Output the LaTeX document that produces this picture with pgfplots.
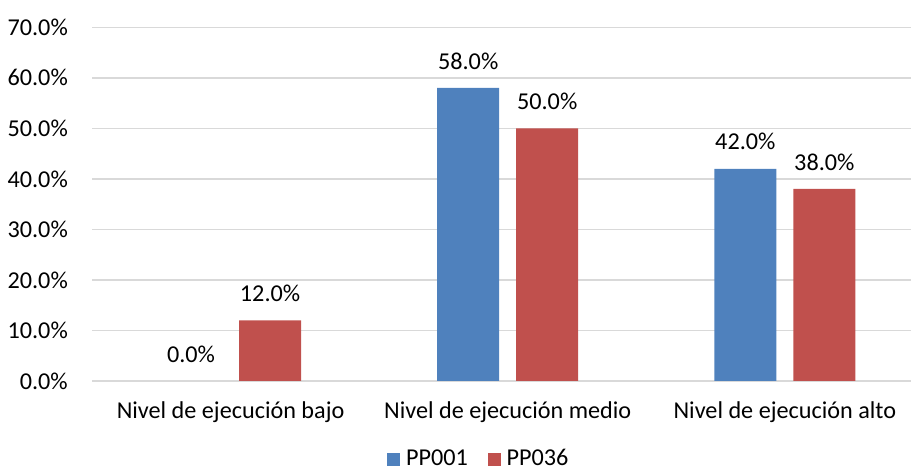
\documentclass[border=0pt]{standalone}
\usepackage{fontspec}
\setmainfont{Carlito}
\usepackage{pgfplots}
\pgfplotsset{compat=1.18}
\definecolor{barblue}{HTML}{4F81BD}
\definecolor{barred}{HTML}{C0504D}
\definecolor{gridgray}{HTML}{D9D9D9}
\begin{document}
\fontsize{24.2bp}{29bp}\selectfont
\begin{tikzpicture}
\begin{axis}[
  at={(92bp,92bp)}, anchor=south west,
  scale only axis, width=831.4bp, height=353.7bp,
  ybar=17bp, bar width=62bp,
  xmin=-0.5, xmax=2.5, ymin=0, ymax=70,
  xtick={0,1,2},
  xticklabels={Nivel de ejecución bajo, Nivel de ejecución medio, Nivel de ejecución alto},
  ytick={0,10,...,70},
  ymajorgrids, xmajorgrids=false,
  grid style={gridgray, line width=1.5bp},
  axis line style={draw=none}, major tick length=0pt, tick style={draw=none},
  /pgf/number format/assume math mode=true,
  yticklabel={\pgfmathprintnumber[fixed,fixed zerofill,precision=1]{\tick}\%},
  yticklabel style={anchor=east, inner sep=0pt, xshift=-24bp, text=black},
  xticklabel style={anchor=base, inner sep=0pt, yshift=-37.3bp, text=black},
  nodes near coords={\pgfmathprintnumber[fixed,fixed zerofill,precision=1]{\pgfplotspointmeta}\%},
  every node near coord/.append style={inner sep=0pt, yshift=18.4bp, text=black},
  legend columns=2,
  legend cell align=left,
  legend style={draw=none, fill=none, inner sep=0pt,
    at={(rel axis cs:0.3548,-0.2215)}, anchor=west,
    /tikz/every odd column/.append style={column sep=6bp},
    /tikz/every even column/.append style={column sep=19.7bp},
    nodes={inner sep=0pt, text=black}},
  legend image code/.code={\path[#1,draw=none] (0bp,-6.5bp) rectangle (13bp,6.5bp);},
]
\addplot[fill=barblue, draw=none] coordinates {(0,0) (1,58) (2,42)};
\addplot[fill=barred, draw=none] coordinates {(0,12) (1,50) (2,38)};
\legend{PP001, PP036}
\end{axis}
\pgfresetboundingbox
\useasboundingbox (0,0) rectangle (911bp,473bp);
\end{tikzpicture}
\end{document}
